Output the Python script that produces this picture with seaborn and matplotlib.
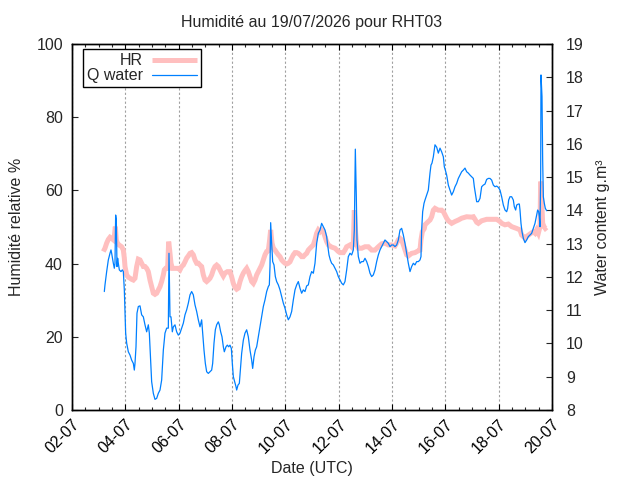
import matplotlib
matplotlib.use("Agg")
import matplotlib.pyplot as plt
import matplotlib.dates as mdates
import seaborn as sns
import pandas as pd
import numpy as np

# ---- data (day of month July 2026, fractional) ----
q_day = [3.212, 3.237, 3.300, 3.362, 3.425, 3.462, 3.487, 3.550, 3.587, 3.612, 3.637, 3.662, 3.687, 3.712,
         3.737, 3.775, 3.837, 3.887, 3.925, 3.962, 3.987, 4.012, 4.050, 4.112, 4.175, 4.237, 4.300, 4.337,
         4.362, 4.400, 4.437, 4.487, 4.550, 4.612, 4.675, 4.737, 4.800, 4.862, 4.900, 4.925, 4.962, 4.987,
         5.050, 5.112, 5.175, 5.237, 5.300, 5.362, 5.425, 5.487, 5.550, 5.612, 5.637, 5.675, 5.712, 5.762,
         5.800, 5.862, 5.925, 5.987, 6.050, 6.112, 6.175, 6.237, 6.300, 6.362, 6.425, 6.487, 6.550, 6.612,
         6.675, 6.737, 6.800, 6.862, 6.900, 6.950, 7.000, 7.050, 7.112, 7.175, 7.237, 7.275, 7.325, 7.375,
         7.425, 7.487, 7.525, 7.575, 7.625, 7.675, 7.712, 7.775, 7.825, 7.875, 7.925, 7.975, 8.012, 8.050,
         8.100, 8.150, 8.175, 8.225, 8.275, 8.325, 8.362, 8.425, 8.487, 8.550, 8.612, 8.675, 8.737, 8.775,
         8.825, 8.875, 8.925, 8.987, 9.050, 9.112, 9.175, 9.237, 9.300, 9.362, 9.400, 9.425, 9.450, 9.487,
         9.525, 9.575, 9.625, 9.675, 9.737, 9.800, 9.862, 9.925, 9.987, 10.050, 10.112, 10.175, 10.237,
         10.300, 10.362, 10.425, 10.487, 10.550, 10.612, 10.675, 10.737, 10.800, 10.862, 10.925, 10.987,
         11.050, 11.112, 11.175, 11.237, 11.300, 11.362, 11.425, 11.487, 11.550, 11.587, 11.637, 11.687,
         11.737, 11.800, 11.862, 11.925, 11.987, 12.050, 12.112, 12.175, 12.237, 12.300, 12.362, 12.425,
         12.487, 12.550, 12.587, 12.625, 12.662, 12.687, 12.737, 12.800, 12.862, 12.925, 12.987, 13.050,
         13.112, 13.175, 13.237, 13.300, 13.362, 13.425, 13.487, 13.550, 13.612, 13.675, 13.737, 13.800,
         13.862, 13.925, 13.987, 14.050, 14.112, 14.175, 14.237, 14.300, 14.362, 14.425, 14.487, 14.550,
         14.612, 14.675, 14.737, 14.800, 14.862, 14.925, 14.987, 15.050, 15.087, 15.112, 15.150, 15.200,
         15.237, 15.300, 15.362, 15.425, 15.462, 15.500, 15.550, 15.612, 15.675, 15.737, 15.800, 15.862,
         15.925, 15.962, 16.000, 16.050, 16.112, 16.175, 16.237, 16.300, 16.362, 16.425, 16.487, 16.550,
         16.612, 16.675, 16.737, 16.800, 16.862, 16.925, 16.987, 17.050, 17.087, 17.125, 17.175, 17.237,
         17.300, 17.337, 17.362, 17.425, 17.487, 17.550, 17.612, 17.675, 17.737, 17.800, 17.862, 17.925,
         17.987, 18.050, 18.112, 18.175, 18.237, 18.300, 18.337, 18.375, 18.425, 18.487, 18.550, 18.587,
         18.637, 18.675, 18.737, 18.775, 18.800, 18.837, 18.875, 18.925, 18.987, 19.050, 19.112, 19.175,
         19.237, 19.300, 19.362, 19.425, 19.462, 19.500, 19.525, 19.550, 19.575, 19.587, 19.625, 19.650,
         19.675, 19.712, 19.750, 19.800]
q_water = [11.56, 11.76, 12.16, 12.51, 12.71, 12.81, 12.71, 12.41, 12.26, 12.41, 13.86, 13.71, 12.31, 12.56,
           12.41, 12.21, 12.16, 12.21, 12.16, 11.61, 10.91, 10.31, 10.01, 9.75, 9.65, 9.50, 9.40, 9.20,
           9.40, 9.90, 10.91, 11.11, 11.13, 10.86, 10.80, 10.56, 10.35, 10.56, 10.31, 9.90, 9.30, 8.85,
           8.50, 8.32, 8.35, 8.50, 8.60, 8.90, 9.80, 10.31, 10.46, 10.46, 12.71, 10.80, 10.80, 10.35,
           10.50, 10.56, 10.35, 10.25, 10.31, 10.46, 10.61, 10.86, 11.01, 11.21, 11.46, 11.56, 11.46, 11.16,
           10.96, 10.71, 10.50, 10.71, 10.31, 9.80, 9.40, 9.15, 9.10, 9.15, 9.20, 9.40, 10.01, 10.41,
           10.56, 10.65, 10.56, 10.35, 10.20, 9.90, 9.75, 9.90, 9.95, 9.90, 9.95, 9.85, 9.40, 9.00,
           8.85, 8.70, 8.60, 8.75, 8.80, 9.30, 9.70, 10.10, 10.31, 10.41, 10.20, 9.80, 9.50, 9.25,
           9.60, 9.80, 9.90, 10.20, 10.50, 10.80, 11.11, 11.31, 11.56, 11.71, 11.76, 12.31, 13.63, 13.01,
           12.46, 12.36, 12.01, 11.86, 11.76, 11.61, 11.41, 11.21, 11.06, 10.86, 10.71, 10.80, 10.96,
           11.31, 11.61, 11.76, 11.86, 11.66, 11.51, 11.61, 11.56, 11.73, 11.76, 12.01, 12.16,
           12.11, 12.41, 13.01, 13.31, 13.41, 13.61, 13.51, 13.41, 13.21, 12.96, 12.66, 12.51,
           12.41, 12.36, 12.26, 12.16, 12.01, 11.91, 11.81, 11.76, 11.86, 12.21, 12.61, 12.71,
           12.66, 12.81, 13.41, 15.84, 14.41, 13.11, 12.61, 12.41, 12.46, 12.46, 12.56, 12.46,
           12.31, 12.11, 12.01, 12.06, 12.21, 12.46, 12.66, 12.81, 12.91, 13.01, 13.11, 13.06,
           13.01, 12.91, 12.96, 12.96, 12.91, 12.96, 13.11, 13.41, 13.46, 13.26, 13.01, 12.71,
           12.41, 12.16, 12.31, 12.41, 12.36, 12.46, 12.46, 12.51, 12.61, 13.41, 13.96, 14.21,
           14.31, 14.46, 14.61, 15.12, 15.36, 15.42, 15.61, 15.97, 15.90, 15.72, 15.87, 15.76,
           15.61, 15.31, 15.21, 15.06, 14.76, 14.61, 14.46, 14.56, 14.71, 14.81, 14.96, 15.06,
           15.16, 15.21, 15.27, 15.16, 15.12, 15.06, 15.01, 14.96, 14.71, 14.51, 14.26, 14.26,
           14.36, 14.56, 14.71, 14.76, 14.79, 14.93, 14.96, 14.96, 14.91, 14.76, 14.71, 14.73,
           14.69, 14.61, 14.41, 14.16, 14.01, 13.96, 14.06, 14.31, 14.41, 14.41, 14.31, 14.11,
           14.01, 14.16, 14.19, 14.19, 14.01, 13.61, 13.36, 13.16, 13.03, 13.11, 13.21, 13.26,
           13.31, 13.46, 13.61, 13.86, 14.01, 13.96, 13.81, 13.51, 15.01, 18.07, 17.42, 15.51,
           14.41, 14.21, 14.06, 13.99]

hr_day = [3.175, 3.237, 3.300, 3.362, 3.425, 3.487, 3.550, 3.587, 3.625, 3.662, 3.700, 3.762, 3.862, 3.925,
          3.962, 3.987, 4.050, 4.112, 4.175, 4.237, 4.300, 4.362, 4.425, 4.487, 4.550, 4.612, 4.675, 4.737,
          4.800, 4.862, 4.925, 4.987, 5.050, 5.112, 5.175, 5.237, 5.300, 5.362, 5.425, 5.462, 5.512, 5.587,
          5.625, 5.662, 5.712, 5.762, 5.862, 5.987, 6.050, 6.112, 6.175, 6.237, 6.300, 6.362, 6.425, 6.487,
          6.550, 6.612, 6.675, 6.737, 6.800, 6.862, 6.925, 6.987, 7.050, 7.112, 7.175, 7.237, 7.300, 7.362,
          7.425, 7.487, 7.550, 7.612, 7.675, 7.737, 7.825, 7.925, 7.987, 8.050, 8.112, 8.175, 8.237, 8.300,
          8.362, 8.425, 8.487, 8.550, 8.612, 8.675, 8.737, 8.800, 8.862, 8.925, 8.987, 9.050, 9.112, 9.175,
          9.237, 9.300, 9.362, 9.412, 9.450, 9.500, 9.550, 9.612, 9.675, 9.737, 9.800, 9.862, 9.925, 9.987,
          10.050, 10.112, 10.175, 10.237, 10.300, 10.362, 10.425, 10.487, 10.550, 10.612, 10.675, 10.737,
          10.800, 10.862, 10.925, 11.050, 11.112, 11.175, 11.237, 11.300, 11.362, 11.425, 11.487, 11.550,
          11.612, 11.737, 11.862, 11.987, 12.050, 12.175, 12.237, 12.300, 12.425, 12.487, 12.550, 12.587,
          12.637, 12.675, 12.737, 12.862, 12.987, 13.112, 13.237, 13.362, 13.487, 13.612, 13.737, 13.862,
          13.987, 14.112, 14.175, 14.237, 14.300, 14.362, 14.425, 14.487, 14.550, 14.612, 14.737, 14.862,
          14.987, 15.050, 15.087, 15.137, 15.212, 15.237, 15.362, 15.425, 15.487, 15.550, 15.612, 15.737,
          15.862, 15.925, 15.987, 16.050, 16.112, 16.237, 16.362, 16.487, 16.612, 16.800, 16.987, 17.050,
          17.112, 17.175, 17.237, 17.362, 17.550, 17.737, 17.925, 18.050, 18.112, 18.237, 18.362, 18.487,
          18.675, 18.800, 18.862, 18.925, 18.987, 19.050, 19.175, 19.300, 19.362, 19.425, 19.487, 19.550,
          19.575, 19.612, 19.650, 19.700, 19.750, 19.800]
hr = [43.3, 44.2, 45.6, 46.6, 47.2, 46.9, 46.5, 47.4, 50.1, 46.5, 45.6, 45.1, 44.6, 43.7,
      41.5, 39.2, 36.9, 36.3, 36.0, 35.7, 35.5, 36.0, 39.2, 41.2, 41.0, 40.1, 39.2, 39.2,
      38.7, 37.8, 35.5, 33.7, 31.9, 31.6, 31.9, 32.8, 33.7, 35.1, 36.9, 38.3, 38.7, 38.7,
      46.0, 43.7, 40.1, 38.7, 38.7, 38.7, 38.3, 39.2, 39.6, 40.5, 41.5, 42.1, 42.8, 43.0,
      42.4, 41.0, 40.1, 40.1, 39.6, 39.2, 36.9, 35.5, 35.1, 35.5, 36.0, 36.9, 38.3, 39.2,
      39.6, 39.2, 38.3, 37.4, 36.6, 37.4, 37.8, 37.8, 36.4, 34.6, 33.5, 33.0, 33.3, 35.1,
      36.4, 37.4, 38.1, 38.7, 37.8, 36.4, 35.1, 34.6, 35.5, 36.9, 37.8, 38.7, 39.6, 41.0,
      42.4, 43.3, 43.5, 46.5, 49.2, 45.6, 44.2, 43.7, 43.0, 42.4, 41.9, 41.0, 40.5, 40.1,
      39.9, 40.1, 40.5, 41.5, 42.4, 43.0, 43.0, 42.8, 42.4, 41.9, 41.9, 42.4,
      42.8, 43.7, 44.2, 45.1, 46.5, 48.3, 49.2, 48.7, 49.2, 48.7, 47.4, 46.0,
      45.1, 44.5, 44.2, 43.3, 43.0, 43.0, 43.7, 44.6, 45.1, 44.6, 45.6, 54.6,
      48.3, 45.1, 44.2, 44.2, 44.6, 44.6, 43.7, 43.7, 44.6, 45.4, 45.6, 45.1,
      45.1, 44.8, 45.6, 46.5, 46.9, 46.5, 45.1, 43.7, 42.4, 42.1, 42.8, 43.0,
      43.5, 43.7, 46.5, 48.7, 49.6, 50.6, 51.5, 51.9, 52.8, 54.6, 55.1, 54.6,
      54.6, 54.2, 53.3, 52.4, 51.7, 51.0, 51.5, 51.9, 52.4, 52.8, 52.7, 52.8,
      52.1, 51.3, 51.0, 51.7, 52.1, 52.1, 52.1, 51.5, 51.0, 50.6, 50.8, 50.1,
      49.6, 49.2, 47.8, 47.4, 46.9, 47.4, 48.1, 48.7, 48.3, 49.2, 48.3, 50.1,
      62.4, 57.4, 51.0, 50.1, 49.6, 49.9]

left_ticks = [0, 20, 40, 60, 80, 100]
right_ticks = [8, 9, 10, 11, 12, 13, 14, 15, 16, 17, 18, 19]

base = pd.Timestamp("2026-07-01")
df_q = pd.DataFrame({"t": base + pd.to_timedelta(np.array(q_day) - 1, unit="D"), "Q water": q_water})
df_h = pd.DataFrame({"t": base + pd.to_timedelta(np.array(hr_day) - 1, unit="D"), "HR": hr})

sns.set_style("ticks")
plt.rcParams["font.family"] = ["Liberation Sans", "DejaVu Sans"]
plt.rcParams["font.size"] = 11.5

FS = 11.5
fig = plt.figure(figsize=(6.4, 4.8), dpi=100)
ax = fig.add_axes([72 / 640, 1 - 410 / 480, 480 / 640, 366 / 480])
ax2 = ax.twinx()

pink = "#ffbfbf"
blue = "#0080ff"

sns.lineplot(data=df_h, x="t", y="HR", ax=ax, color=pink, linewidth=3.6, label="HR", legend=False,
             estimator=None, sort=False, solid_capstyle="butt", solid_joinstyle="miter")
sns.lineplot(data=df_q, x="t", y="Q water", ax=ax2, color=blue, linewidth=0.9, label="Q water",
             legend=False, estimator=None, sort=False)

ax.set_xlim(pd.Timestamp("2026-07-02"), pd.Timestamp("2026-07-20"))
ax.set_ylim(0, 100)
ax2.set_ylim(8, 19)
ax.set_yticks(left_ticks)
ax2.set_yticks(right_ticks)

ax.xaxis.set_major_locator(mdates.DayLocator(bymonthday=range(2, 31, 2)))
ax.xaxis.set_minor_locator(mdates.HourLocator(byhour=[0, 12]))
ax.xaxis.set_major_formatter(mdates.DateFormatter("%d-%m"))

for a in (ax, ax2):
    for s in a.spines.values():
        s.set_color("black")
        s.set_linewidth(1.0)

ax.tick_params(axis="x", which="major", direction="in", length=4, width=0.8, top=True, bottom=True,
               pad=5, labelsize=FS, colors="black")
ax.tick_params(axis="x", which="minor", direction="in", length=2.5, width=0.8, top=True, bottom=True)
ax.tick_params(axis="y", which="major", direction="in", length=4, width=0.8, left=True, right=False,
               pad=6.5, labelsize=FS)
ax2.tick_params(axis="y", which="major", direction="in", length=4, width=0.8, right=True, left=False,
                pad=10, labelsize=FS)
for lbl in ax.get_xticklabels():
    lbl.set_rotation(45)
    lbl.set_ha("right")
    lbl.set_va("top")
    lbl.set_rotation_mode("anchor")

ax.grid(axis="x", which="major", color="#a0a0a0", linestyle=(0, (2, 2)), linewidth=0.8)
ax.grid(axis="y", visible=False)
ax2.grid(False)

ax.set_xlabel("Date (UTC)", fontsize=FS, labelpad=3)
ax.set_ylabel("Humidité relative %", fontsize=FS, labelpad=9)
ax2.set_ylabel("Water content g.m³", fontsize=FS, labelpad=8)
ax.set_title("Humidité au 19/07/2026 pour RHT03", fontsize=FS, pad=12)

handles = [ax.get_lines()[0], ax2.get_lines()[0]]
leg = ax2.legend(handles, ["HR", "Q water"], loc="upper left", bbox_to_anchor=(0.0223, 0.9855),
                 borderaxespad=0, markerfirst=False, handlelength=2.8, handletextpad=0.6,
                 labelspacing=0.0, borderpad=0.25,
                 fontsize=FS, fancybox=False, framealpha=1, edgecolor="black")
leg.get_frame().set_linewidth(1.0)

fig.savefig("out.png", dpi=100)
